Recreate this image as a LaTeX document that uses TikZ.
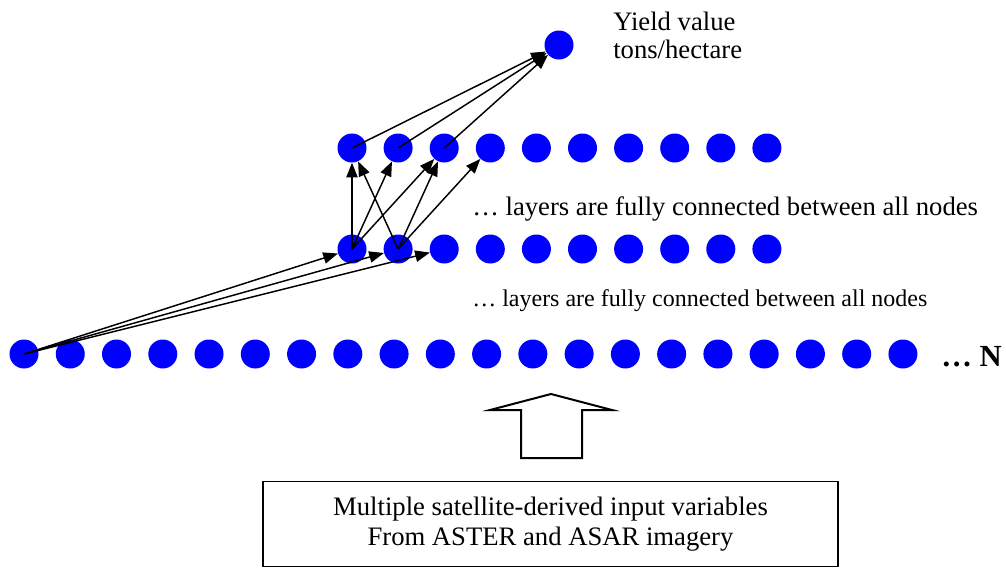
\documentclass[tikz,border=0pt]{standalone}
\usepackage{fontspec}
\setmainfont{Liberation Serif}
\usetikzlibrary{arrows.meta}
\tikzset{
  neuron/.style={circle, fill=blue, draw=none, minimum size=21.75pt, inner sep=0pt},
  link/.style={-{Triangle[length=11pt,width=8.5pt]}, line width=1.1pt, draw=black},
  lbl/.style={font=\fontsize{20}{23}\selectfont, inner sep=0pt, anchor=base west},
  smalllbl/.style={font=\fontsize{18}{21}\selectfont, inner sep=0pt, anchor=base west},
  inputbox/.style={draw=black, line width=1.2pt, minimum width=431pt, minimum height=64pt,
    align=center, font=\fontsize{20}{22.5}\selectfont, inner sep=0pt},
  bigarrow/.style={draw=black, line width=1.5pt, fill=white, line join=miter},
}
\begin{document}
\begin{tikzpicture}[x=0.75pt,y=-0.75pt]
\useasboundingbox (0,0) rectangle (1006,568);
% input layer
\foreach \i in {1,...,20} \node[neuron] (i\i) at ({24+(\i-1)*46.26},354) {};
% hidden layers
\foreach \i in {1,...,10} \node[neuron] (m\i) at ({352+(\i-1)*46.1},249) {};
\foreach \i in {1,...,10} \node[neuron] (t\i) at ({352+(\i-1)*46.1},148) {};
% output
\node[neuron] (out) at (559,45) {};
% labels
\node[lbl] (y1) at (613,30) {Yield value};
\node[lbl] (y2) at (613,58) {tons/hectare};
\node[lbl] (f1) at (472,215) {… layers are fully connected between all nodes};
\node[smalllbl] (f2) at (472,306) {… layers are fully connected between all nodes};
\node[lbl, font=\fontsize{23}{26}\selectfont\bfseries] (dots) at (941,366) {… N};
% connectors
\draw[link] (i1.center) -- (m1);
\draw[link] (i1.center) -- (m2);
\draw[link] (i1.center) -- (m3);
\draw[link] (m1.center) -- (t1);
\draw[link] (m1.center) -- (t2);
\draw[link] (m1.center) -- (t3);
\draw[link] (m2.center) -- (t1);
\draw[link] (m2.center) -- (t3);
\draw[link] (m2.center) -- (t4);
\draw[link] (t1.center) -- (out);
\draw[link] (t2.center) -- (out);
\draw[link] (t3.center) -- (out);
% big hollow arrow
\draw[bigarrow] (521,458) -- (521,410) -- (490,410) -- (551,394) -- (612,410) -- (582,410) -- (582,458) -- cycle;
% input box
\node[inputbox] (box) at (550.5,524) {Multiple satellite-derived input variables\\From ASTER and ASAR imagery};
\end{tikzpicture}
\end{document}
